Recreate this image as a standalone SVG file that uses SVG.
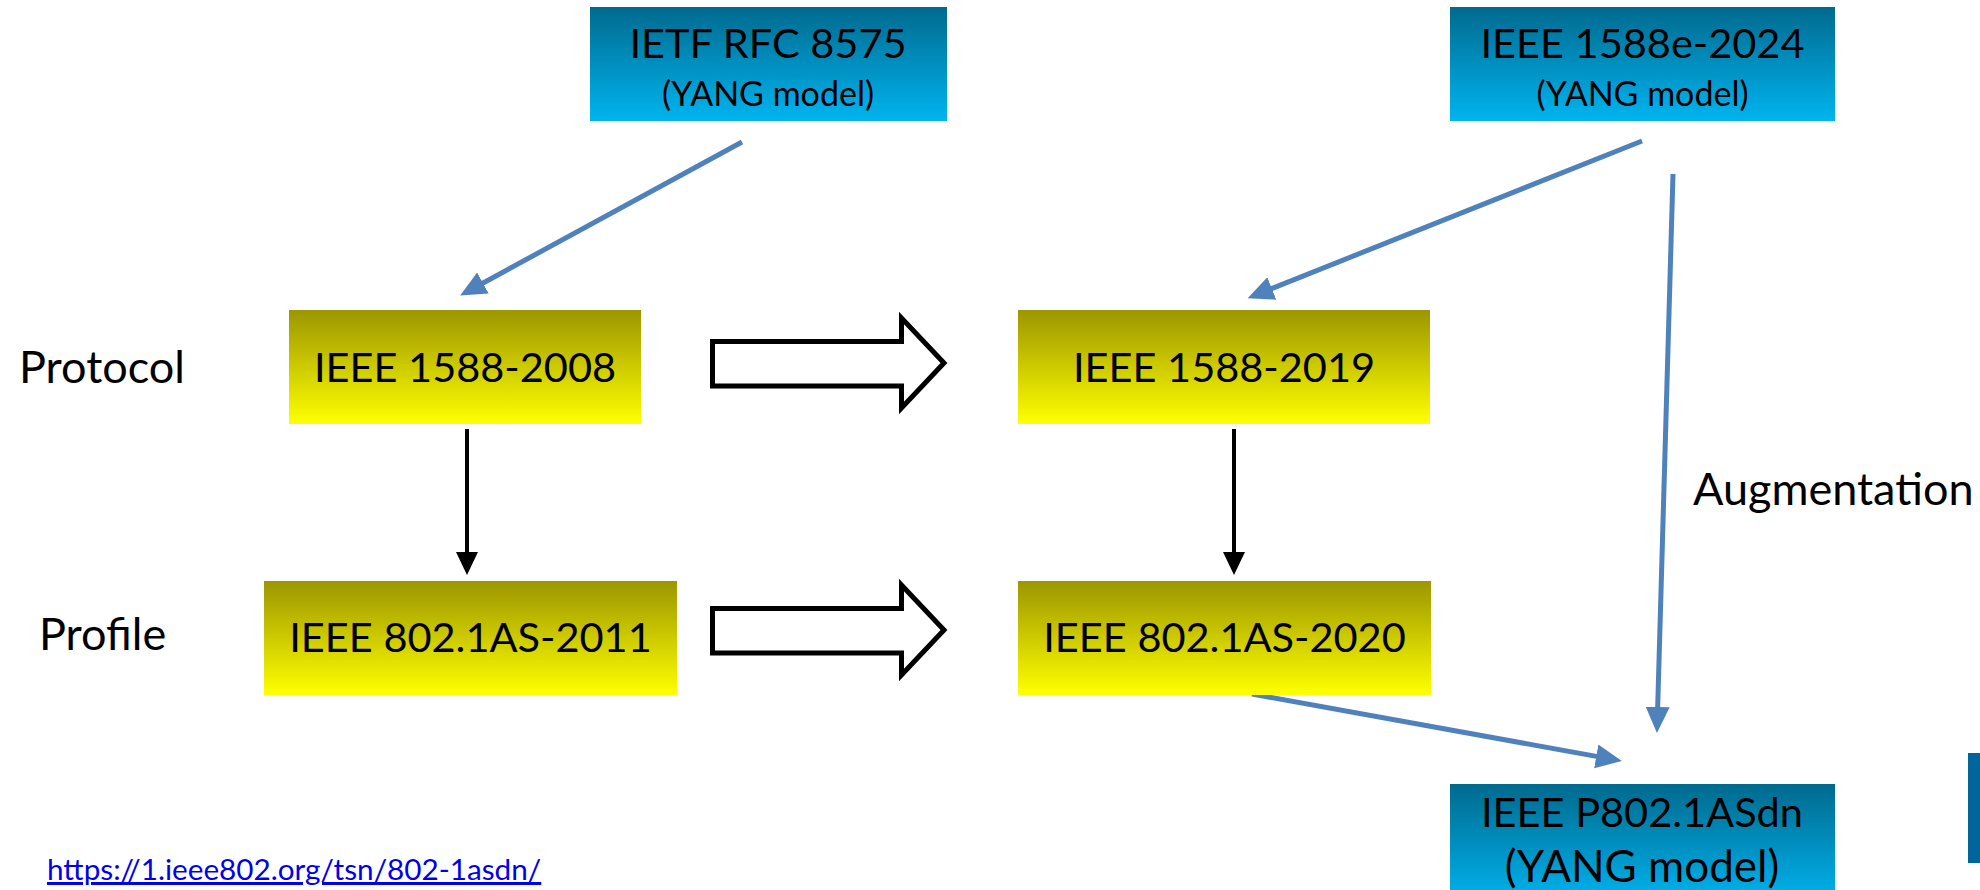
<svg xmlns="http://www.w3.org/2000/svg" width="1980" height="890" viewBox="0 0 1980 890">
<style>
.t{font-family:Lato,"Noto Sans","DejaVu Sans",sans-serif;fill:#000;text-anchor:middle}
.big{font-size:41.5px}
.sm{font-size:34px}
.lbl{font-family:Lato,"Noto Sans","DejaVu Sans",sans-serif;font-size:45px;fill:#000}
.blue{stroke:#4F81BD;stroke-width:5;fill:none}
.blk{stroke:#000;stroke-width:4;fill:none}
.hollow{fill:#fff;stroke:#000;stroke-width:5;stroke-linejoin:miter}
</style>
<defs>
<linearGradient id="gB" x1="0" y1="0" x2="0" y2="1">
<stop offset="0" stop-color="#006A8E"/>
<stop offset="1" stop-color="#00B4F0"/>
</linearGradient>
<linearGradient id="gY" x1="0" y1="0" x2="0" y2="1">
<stop offset="0" stop-color="#9C9600"/>
<stop offset="1" stop-color="#FFFF00"/>
</linearGradient>
<marker id="ab" markerUnits="userSpaceOnUse" markerWidth="28" markerHeight="26" refX="17" refY="12" orient="auto">
<path d="M0,0 L26,12 L0,24 z" fill="#4F81BD"/>
</marker>
<marker id="ak" markerUnits="userSpaceOnUse" markerWidth="26" markerHeight="24" refX="15" refY="11" orient="auto">
<path d="M0,0 L23,11 L0,22 z" fill="#000"/>
</marker>
</defs>
<rect width="1980" height="890" fill="#fff"/>

<g id="connectors">
<line class="blue" x1="742" y1="142" x2="468" y2="291.2" marker-end="url(#ab)"/>
<line class="blue" x1="1642" y1="141" x2="1256" y2="294.8" marker-end="url(#ab)"/>
<line class="blue" x1="1673" y1="174" x2="1657.2" y2="724" marker-end="url(#ab)"/>
<line class="blue" x1="1252" y1="694" x2="1613" y2="759.4" marker-end="url(#ab)"/>
<line class="blk" x1="467" y1="429" x2="467" y2="567" marker-end="url(#ak)"/>
<line class="blk" x1="1234" y1="429" x2="1234" y2="567" marker-end="url(#ak)"/>
<polygon class="hollow" points="712.5,341.5 901.5,341.5 901.5,318 944,363 901.5,408 901.5,386 712.5,386"/>
<polygon class="hollow" points="712.5,608.5 901.5,608.5 901.5,585 944,630 901.5,675 901.5,653 712.5,653"/>
</g>

<g id="ietf">
<rect x="590" y="7" width="357" height="114" fill="url(#gB)"/>
<text class="t big" x="768" y="58">IETF RFC 8575</text>
<text class="t sm" x="768" y="106">(YANG model)</text>
</g>
<g id="ieee1588e">
<rect x="1450" y="7" width="385" height="114" fill="url(#gB)"/>
<text class="t big" x="1642.5" y="58">IEEE 1588e-2024</text>
<text class="t sm" x="1642.5" y="106">(YANG model)</text>
</g>
<g id="ieee1588-2008">
<rect x="289" y="310" width="352" height="114" fill="url(#gY)"/>
<text class="t big" x="465" y="382">IEEE 1588-2008</text>
</g>
<g id="ieee1588-2019">
<rect x="1018" y="310" width="412" height="114" fill="url(#gY)"/>
<text class="t big" x="1224" y="382">IEEE 1588-2019</text>
</g>
<g id="ieee8021as-2011">
<rect x="264" y="581" width="413" height="114" fill="url(#gY)"/>
<text class="t big" x="470.5" y="652">IEEE 802.1AS-2011</text>
</g>
<g id="ieee8021as-2020">
<rect x="1018" y="581" width="413" height="114" fill="url(#gY)"/>
<text class="t big" x="1224.5" y="652">IEEE 802.1AS-2020</text>
</g>
<g id="p8021asdn">
<rect x="1450" y="784" width="385" height="120" fill="url(#gB)"/>
<text class="t big" x="1642" y="827">IEEE P802.1ASdn</text>
<text class="t" style="font-size:44px" x="1642" y="882">(YANG model)</text>
</g>

<g id="labels">
<text class="lbl" x="19" y="383">Protocol</text>
<text class="lbl" x="39" y="650">Profile</text>
<text class="lbl" x="1693" y="505">Augmentation</text>
<text x="47" y="880" style="font-family:Lato,'Noto Sans','DejaVu Sans',sans-serif;font-size:29.7px;fill:#0000EE;text-decoration:underline">https://1.ieee802.org/tsn/802-1asdn/</text>
</g>
<rect id="edgebar" x="1968" y="753" width="12" height="110" fill="#00659B"/>
</svg>
